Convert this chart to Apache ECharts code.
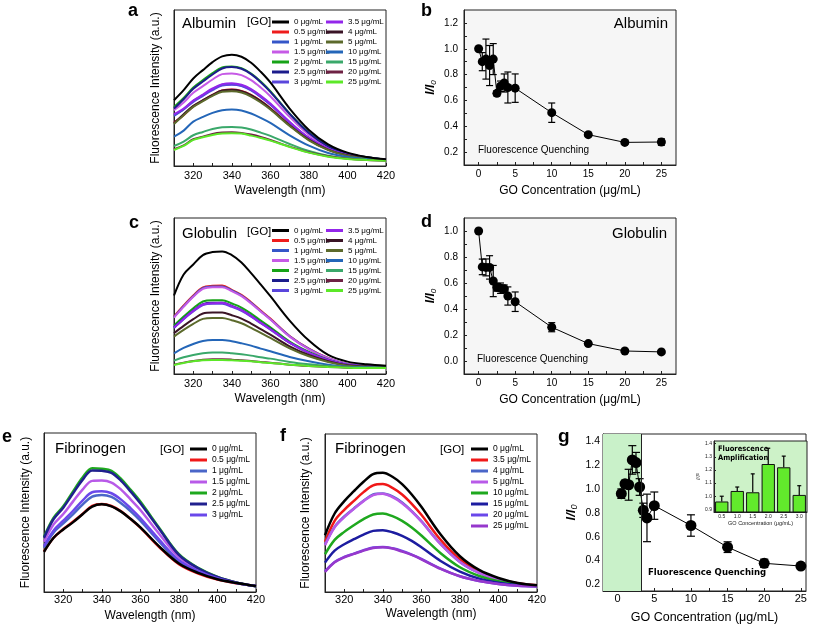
<!DOCTYPE html>
<html><head><meta charset="utf-8">
<script src="https://cdn.jsdelivr.net/npm/echarts@6/dist/echarts.min.js"></script>
<style>
html,body{margin:0;padding:0;background:#fff;width:817px;height:625px;overflow:hidden}
.c{position:absolute;left:0;top:0;width:817px;height:625px}
</style></head><body>
<div id="pa" class="c"></div><div id="pb" class="c"></div><div id="pc" class="c"></div>
<div id="pd" class="c"></div><div id="pe" class="c"></div><div id="pf" class="c"></div>
<div id="pg" class="c"></div>
<script>
// ---------- shared axes / tick labels ----------
const wavelengths = [310,315,320,325,330,335,340,345,350,355,360,370,380,390,400,410,420];
const wlLabelTicks = [320,340,360,380,400,420];
const wlTicks = [310,320,330,340,350,360,370,380,390,400,410,420];
const concLabelTicks = [0,5,10,15,20,25];
const concTicks = [0,2.5,5,7.5,10,12.5,15,17.5,20,22.5,25];
const ratioLabelsB = [0.2,0.4,0.6,0.8,1.0,1.2];
const ratioTicksB = [0.2,0.3,0.4,0.5,0.6,0.7,0.8,0.9,1.0,1.1,1.2];
const ratioLabelsD = [0,0.2,0.4,0.6,0.8,1.0];
const ratioTicksD = [0,0.1,0.2,0.3,0.4,0.5,0.6,0.7,0.8,0.9,1.0];
const ratioLabelsG = [0.2,0.4,0.6,0.8,1.0,1.2,1.4];
const ratioTicksG = [0.2,0.3,0.4,0.5,0.6,0.7,0.8,0.9,1.0,1.1,1.2,1.3,1.4];
const insetLabels = [0.9,1.0,1.1,1.2,1.3,1.4];

// ---------- legend names ----------
const goNames14 = ['0 μg/mL','0.5 μg/mL','1 μg/mL','1.5 μg/mL','2 μg/mL','2.5 μg/mL','3 μg/mL',
                   '3.5 μg/mL','4 μg/mL','5 μg/mL','10 μg/mL','15 μg/mL','20 μg/mL','25 μg/mL'];
const goNamesE = ['0 μg/mL','0.5 μg/mL','1 μg/mL','1.5 μg/mL','2 μg/mL','2.5 μg/mL','3 μg/mL'];
const goNamesF = ['0 μg/mL','3.5 μg/mL','4 μg/mL','5 μg/mL','10 μg/mL','15 μg/mL','20 μg/mL','25 μg/mL'];
const colors14 = ['#000000','#ee1c1c','#3556c8','#c65ae6','#17a317','#1c1c8c','#5a46dc',
                  '#9326ea','#3a1426','#5c6a2c','#2466b8','#3aa86a','#6e2244','#5ce828'];
const colorsE = ['#000000','#f01818','#4a66c8','#b85ae8','#1ea81e','#20208e','#6a48ea'];
const colorsF = ['#000000','#f01818','#4a66c8','#b85ae8','#1ea81e','#1c1ca0','#6a48ea','#9638cc'];

// ---------- panel a: Albumin spectra (a.u.) ----------
const alb_0   = [197,227,262,287,311,328,333,327,309,282,250,172,108,65,40,27,20];
const alb_0_5 = [130,152,178,196,213,226,229,225,213,195,173,123,79,49,32,23,18];
const alb_1   = [150,170,195,212,230,243,245,241,228,208,185,131,84,51,33,24,19];
const alb_1_5 = [167,190,219,239,259,275,277,272,257,235,209,147,93,56,36,26,19];
const alb_2   = [177,204,235,257,278,295,298,293,277,253,224,157,100,60,37,26,19];
const alb_2_5 = [172,200,231,253,274,292,296,291,275,251,222,156,99,59,37,26,19];
const alb_3   = [152,169,192,210,227,241,243,239,226,206,183,130,83,51,33,24,19];
const alb_3_5 = [155,172,196,214,232,245,248,243,230,210,187,132,84,52,33,24,19];
const alb_4   = [128,155,180,197,213,226,228,224,212,194,172,122,79,49,32,23,18];
const alb_5   = [126,152,177,194,210,222,224,220,208,190,169,120,77,48,31,23,18];
const alb_10  = [88,106,133,147,159,167,169,166,157,144,129,92,61,39,27,21,17];
const alb_15  = [60,73,92,102,111,116,117,115,109,100,90,66,45,31,23,19,17];
const alb_20  = [50,62,80,88,96,100,101,99,94,87,78,58,41,29,22,18,16];
const alb_25  = [48,60,78,86,93,97,98,97,91,84,76,57,40,28,21,18,16];

// ---------- panel c: Globulin spectra (a.u.) ----------
const glo_0   = [235,298,328,356,365,367,356,334,302,268,233,160,100,57,37,29,25];
const glo_0_5 = [172,205,235,259,264,265,252,237,215,190,166,114,76,48,30,25,22];
const glo_1   = [170,203,233,257,262,262,250,235,213,188,164,113,75,47,30,25,22];
const glo_1_5 = [169,201,231,255,260,260,248,233,211,187,163,112,74,47,30,25,22];
const glo_2   = [145,172,197,217,221,221,211,199,181,160,140,97,66,43,28,24,21];
const glo_2_5 = [140,166,190,209,213,213,204,192,174,154,135,94,64,42,28,24,21];
const glo_3   = [138,164,187,206,210,210,201,189,172,152,133,93,63,41,27,24,21];
const glo_3_5 = [139,165,189,208,212,213,203,191,173,153,134,94,63,42,28,24,21];
const glo_4   = [122,144,164,181,184,184,176,166,151,134,118,83,57,38,26,23,21];
const glo_5   = [112,132,150,165,168,168,161,152,138,123,108,77,53,36,25,22,20];
const glo_10  = [62,78,90,99,102,102,98,92,85,76,68,51,38,28,22,20,19];
const glo_15  = [40,50,57,62,64,64,62,59,55,50,46,36,29,24,20,19,18];
const glo_20  = [28,34,39,43,44,44,43,41,39,36,34,28,24,21,19,18,18];
const glo_25  = [27,33,38,41,42,42,41,40,38,35,33,28,24,21,19,18,18];

// ---------- panel e: Fibrinogen spectra, low [GO] ----------
const fibE_0   = [120,162,187,208,232,255,262,256,240,218,193,135,85,57,38,27,18];
const fibE_0_5 = [121,162,188,210,233,257,263,257,241,218,192,133,83,55,37,26,18];
const fibE_1   = [132,178,205,232,261,285,290,284,265,241,213,149,92,61,40,27,18];
const fibE_1_5 = [150,202,233,270,306,332,333,327,306,276,245,172,104,67,43,28,17];
const fibE_2   = [165,222,256,300,342,370,368,362,338,305,270,190,113,72,45,28,17];
const fibE_2_5 = [162,218,252,294,335,363,362,356,332,300,265,187,111,71,45,28,17];
const fibE_3   = [137,184,213,242,273,298,301,295,276,250,221,155,95,63,41,27,18];

// ---------- panel f: Fibrinogen spectra, high [GO] ----------
const fibF_0   = [170,235,272,302,330,353,357,345,323,292,255,172,107,66,42,27,20];
const fibF_3_5 = [150,213,246,273,299,319,323,312,292,264,231,156,98,61,39,26,20];
const fibF_4   = [142,195,226,250,273,292,295,286,268,242,212,144,90,57,37,25,19];
const fibF_5   = [140,194,224,249,272,290,294,284,266,241,211,143,90,57,37,25,19];
const fibF_10  = [113,156,180,200,218,232,235,227,213,193,169,116,74,48,32,23,18];
const fibF_15  = [88,124,143,158,172,183,185,179,168,153,134,93,61,40,28,21,17];
const fibF_20  = [62,90,105,115,125,133,135,131,123,112,99,70,47,33,24,19,17];
const fibF_25  = [60,89,104,114,124,132,134,130,121,111,98,69,47,33,24,19,17];

// ---------- I/I0 vs GO concentration ----------
const concAll = [0,0.5,1,1.5,2,2.5,3,3.5,4,5,10,15,20,25];
const albRatio = [1.0,0.90,0.92,0.87,0.92,0.655,0.71,0.735,0.70,0.695,0.505,0.335,0.275,0.278];
const albErr   = [0.01,0.07,0.155,0.155,0.12,0.02,0.04,0.07,0.12,0.11,0.075,0.012,0.01,0.025];
const gloRatio = [1.0,0.724,0.72,0.72,0.615,0.567,0.56,0.555,0.50,0.456,0.26,0.134,0.077,0.07];
const gloErr   = [0.005,0.06,0.065,0.09,0.12,0.03,0.04,0.03,0.07,0.075,0.035,0.012,0.01,0.01];
const concFib  = [0.5,1,1.5,2,2.5,3,3.5,4,5,10,15,20,25];
const fibRatio = [0.962,1.045,1.037,1.246,1.224,1.018,0.822,0.758,0.861,0.694,0.512,0.376,0.353];
const fibErr   = [0.04,0.03,0.13,0.12,0.085,0.07,0.06,0.2,0.115,0.09,0.045,0.035,0.012];
const ampCats  = ['0.5','1.0','1.5','2.0','2.5','3.0'];
const ampVals  = [0.96,1.04,1.03,1.245,1.22,1.01];
const ampErr   = [0.04,0.03,0.14,0.12,0.085,0.07];

// ---------- helpers ----------
const FONT = "'Liberation Sans', Arial, sans-serif";
const NARROW = "'Liberation Sans Narrow', 'DejaVu Sans Condensed', 'Liberation Sans', sans-serif";
const AX = '#222';
function txt(t, x, y, size, opt) {
  opt = opt || {};
  return {type:'text', x:x, y:y, silent:true, z:100, style:{text:t, fill:'#000',
    font:(opt.weight||'normal')+' '+size+'px '+(opt.family||FONT),
    align:opt.align||'left', verticalAlign:'middle'}};
}
function errRender(capW, upperOnly) {
  return function (params, api) {
    const x = api.value(0), lo = api.value(1), hi = api.value(2);
    const pHi = api.coord([x, hi]), pLo = api.coord([x, lo]);
    const st = {stroke:'#000', lineWidth:1.2};
    const ch = [
      {type:'line', shape:{x1:pHi[0], y1:pHi[1], x2:pLo[0], y2:pLo[1]}, style:st},
      {type:'line', shape:{x1:pHi[0]-capW/2, y1:pHi[1], x2:pHi[0]+capW/2, y2:pHi[1]}, style:st}
    ];
    if (!upperOnly) ch.push({type:'line', shape:{x1:pLo[0]-capW/2, y1:pLo[1], x2:pLo[0]+capW/2, y2:pLo[1]}, style:st});
    return {type:'group', children:ch};
  };
}
function legendCol(names, left, top, fs, lh) {
  return {data:names, orient:'vertical', left:left, top:top, icon:'rect', itemWidth:17, itemHeight:3,
    itemGap:1, padding:0, selectedMode:false, textStyle:{fontSize:fs, lineHeight:lh, color:'#000', fontFamily:FONT}};
}

function spectrum(id, cfg) {
  const chart = echarts.init(document.getElementById(id));
  const series = cfg.curves.map((arr, i) => ({
    name: cfg.names[i], type:'line', data: wavelengths.map((w, j) => [w, arr[j]]),
    smooth:0.35, showSymbol:false, symbol:'none', color: cfg.colors[i], silent:true,
    lineStyle:{width:cfg.lw, color:cfg.colors[i]}, z: i === 0 ? 5 : 2
  }));
  chart.setOption({
    animation:false, textStyle:{fontFamily:FONT},
    grid:{left:cfg.grid[0], top:cfg.grid[1], width:cfg.grid[2], height:cfg.grid[3], show:true,
          borderColor:AX, borderWidth:1, backgroundColor:'transparent'},
    xAxis:{type:'value', min:310, max:420, name:'Wavelength (nm)', nameLocation:'middle', nameGap:cfg.xGap,
      nameTextStyle:{fontSize:12, color:'#000'}, axisLine:{show:true, onZero:false, lineStyle:{color:AX}},
      axisTick:{show:true, inside:true, length:3, customValues:wlTicks, lineStyle:{color:AX}},
      axisLabel:{customValues:wlLabelTicks, fontSize:11, color:'#000', margin:cfg.lblMargin}, splitLine:{show:false}},
    yAxis:{type:'value', min:0, max:cfg.ymax, name:'Fluorescence Intensity (a.u.)', nameLocation:'middle',
      nameGap:cfg.yGap, nameTextStyle:{fontSize:12, color:'#000'}, axisLine:{show:true, onZero:false, lineStyle:{color:AX}},
      axisTick:{show:false}, axisLabel:{show:false}, splitLine:{show:false}},
    legend: cfg.legends,
    graphic: cfg.graphic,
    series: series
  });
}

function ratioChart(id, cfg) {
  const chart = echarts.init(document.getElementById(id));
  const errData = cfg.x.map((x, i) => [x, cfg.y[i]-cfg.err[i], cfg.y[i]+cfg.err[i]]);
  chart.setOption({
    animation:false, textStyle:{fontFamily:FONT},
    grid:{left:cfg.grid[0], top:cfg.grid[1], width:cfg.grid[2], height:cfg.grid[3], show:true,
          borderColor:AX, borderWidth:1, backgroundColor:'#f6f6f6'},
    xAxis:{type:'value', min:-2, max:27, name:'GO Concentration (μg/mL)', nameLocation:'middle', nameGap:cfg.xGap,
      nameTextStyle:{fontSize:12, color:'#000'}, axisLine:{show:true, onZero:false, lineStyle:{color:AX}},
      axisTick:{show:true, inside:true, length:3, customValues:concTicks, lineStyle:{color:AX}},
      axisLabel:{customValues:concLabelTicks, fontSize:10, color:'#000', margin:4}, splitLine:{show:false}},
    yAxis:{type:'value', min:cfg.ymin, max:cfg.ymax, name:'{i|I/I}{s|0}', nameLocation:'middle', nameGap:26,
      nameTextStyle:{color:'#000', rich:{i:{fontSize:12, fontStyle:'italic', fontWeight:'bold'}, s:{fontSize:8, fontStyle:'italic', padding:[6,0,0,0]}}},
      axisLine:{show:true, onZero:false, lineStyle:{color:AX}},
      axisTick:{show:true, inside:true, length:3, customValues:cfg.yTicks, lineStyle:{color:AX}},
      axisLabel:{customValues:cfg.yLabels, fontSize:10, color:'#000', margin:6, formatter:v => v.toFixed(1)},
      splitLine:{show:false}},
    graphic: cfg.graphic,
    series:[
      {type:'custom', renderItem:errRender(7, false), data:errData, encode:{x:0, y:[1,2]}, silent:true, z:2},
      {type:'line', data:cfg.x.map((x, i) => [x, cfg.y[i]]), symbol:'circle', symbolSize:9, showSymbol:true,
       color:'#000', lineStyle:{color:'#000', width:1}, itemStyle:{color:'#000'}, silent:true, z:3}
    ]
  });
}

// ---------- panel a ----------
spectrum('pa', {
  grid:[174,10,212,156], ymax:467, lw:2, xGap:19, yGap:12, lblMargin:4,
  curves:[alb_0,alb_0_5,alb_1,alb_1_5,alb_2,alb_2_5,alb_3,alb_3_5,alb_4,alb_5,alb_10,alb_15,alb_20,alb_25],
  names:goNames14, colors:colors14,
  legends:[legendCol(goNames14.slice(0,7), 272, 17.5, 8, 9), legendCol(goNames14.slice(7), 326, 17.5, 8, 9)],
  graphic:[txt('a', 128, 11, 18, {weight:'bold'}), txt('Albumin', 182, 23.5, 15), txt('[GO]', 247, 22, 11.5)]
});
// ---------- panel b ----------
ratioChart('pb', {
  grid:[464,10,212,155], ymin:0.1, ymax:1.3, yLabels:ratioLabelsB, yTicks:ratioTicksB, xGap:20,
  x:concAll, y:albRatio, err:albErr,
  graphic:[txt('b', 421, 11, 18, {weight:'bold'}), txt('Albumin', 668, 24, 15, {align:'right'}),
           txt('Fluorescence Quenching', 478, 150.5, 10)]
});
// ---------- panel c ----------
spectrum('pc', {
  grid:[174,218,212,156], ymax:467, lw:2, xGap:19, yGap:12, lblMargin:4,
  curves:[glo_0,glo_0_5,glo_1,glo_1_5,glo_2,glo_2_5,glo_3,glo_3_5,glo_4,glo_5,glo_10,glo_15,glo_20,glo_25],
  names:goNames14, colors:colors14,
  legends:[legendCol(goNames14.slice(0,7), 272, 226, 8, 9), legendCol(goNames14.slice(7), 326, 226, 8, 9)],
  graphic:[txt('c', 129, 223, 18, {weight:'bold'}), txt('Globulin', 182, 233.5, 15), txt('[GO]', 247, 231.5, 11.5)]
});
// ---------- panel d ----------
ratioChart('pd', {
  grid:[464,218,212,156], ymin:-0.1, ymax:1.1, yLabels:ratioLabelsD, yTicks:ratioTicksD, xGap:20,
  x:concAll, y:gloRatio, err:gloErr,
  graphic:[txt('d', 421, 222, 18, {weight:'bold'}), txt('Globulin', 667, 233.5, 15, {align:'right'}),
           txt('Fluorescence Quenching', 477, 359, 10)]
});
// ---------- panel e ----------
spectrum('pe', {
  grid:[44,433,212,159], ymax:475, lw:2.5, xGap:18, yGap:12, lblMargin:2,
  curves:[fibE_0,fibE_0_5,fibE_1,fibE_1_5,fibE_2,fibE_2_5,fibE_3],
  names:goNamesE, colors:colorsE,
  legends:[legendCol(goNamesE, 190, 444, 8.5, 10)],
  graphic:[txt('e', 2, 437, 18, {weight:'bold'}), txt('Fibrinogen', 55, 449, 15), txt('[GO]', 160, 449.5, 11.5)]
});
// ---------- panel f ----------
spectrum('pf', {
  grid:[325,434,212,158], ymax:473, lw:2.5, xGap:16, yGap:13, lblMargin:2,
  curves:[fibF_0,fibF_3_5,fibF_4,fibF_5,fibF_10,fibF_15,fibF_20,fibF_25],
  names:goNamesF, colors:colorsF,
  legends:[legendCol(goNamesF, 471, 444, 8.5, 10)],
  graphic:[txt('f', 280, 436, 18, {weight:'bold'}), txt('Fibrinogen', 335, 449, 15), txt('[GO]', 440, 449.5, 11.5)]
});
// ---------- panel g (with inset) ----------
(function () {
  const chart = echarts.init(document.getElementById('pg'));
  const errMain = concFib.map((x, i) => [x, fibRatio[i]-fibErr[i], fibRatio[i]+fibErr[i]]);
  const errInset = ampCats.map((c, i) => [i, ampVals[i], ampVals[i]+ampErr[i]]);
  chart.setOption({
    animation:false, textStyle:{fontFamily:FONT},
    grid:[
      {left:603, top:434, width:203, height:158, show:true, borderColor:AX, borderWidth:1, backgroundColor:'#fff'},
      {left:714, top:441, width:93, height:71, show:true, borderColor:AX, borderWidth:1, backgroundColor:'#cdf2c8', z:10}
    ],
    xAxis:[
      {gridIndex:0, type:'value', min:-2, max:25.7, name:'GO Concentration (μg/mL)', nameLocation:'middle', nameGap:20,
       nameTextStyle:{fontSize:12.5, color:'#000'}, axisLine:{show:true, onZero:false, lineStyle:{color:AX}},
       axisTick:{show:true, inside:true, length:3, customValues:concTicks, lineStyle:{color:AX}},
       axisLabel:{customValues:concLabelTicks, fontSize:11, color:'#000', margin:2}, splitLine:{show:false}},
      {gridIndex:1, type:'category', data:ampCats, name:'GO Concentration (μg/mL)', nameLocation:'middle', nameGap:8,
       nameTextStyle:{fontSize:5.5, color:'#222'}, axisLine:{show:true, onZero:false, lineStyle:{color:AX}},
       axisTick:{show:false}, axisLabel:{fontSize:5, color:'#222', margin:2}, z:10}
    ],
    yAxis:[
      {gridIndex:0, type:'value', min:0.143, max:1.464, name:'{i|I/I}{s|0}', nameLocation:'middle', nameGap:24,
       nameTextStyle:{color:'#000', rich:{i:{fontSize:13, fontStyle:'italic', fontWeight:'bold'}, s:{fontSize:9, fontStyle:'italic', padding:[6,0,0,0]}}},
       axisLine:{show:true, onZero:false, lineStyle:{color:AX}},
       axisTick:{show:true, inside:true, length:3, customValues:ratioTicksG, lineStyle:{color:AX}},
       axisLabel:{customValues:ratioLabelsG, fontSize:10.5, color:'#000', margin:3, formatter:v => v.toFixed(1)},
       splitLine:{show:false}},
      {gridIndex:1, type:'value', min:0.88, max:1.42, name:'{i|I/I}{s|0}', nameLocation:'middle', nameGap:11,
       nameTextStyle:{color:'#222', rich:{i:{fontSize:5.5, fontStyle:'italic'}, s:{fontSize:4}}},
       axisLine:{show:true, onZero:false, lineStyle:{color:AX}}, axisTick:{show:true, inside:true, length:2, customValues:insetLabels, lineStyle:{color:AX}},
       axisLabel:{customValues:insetLabels, fontSize:5, color:'#222', margin:2, formatter:v => v.toFixed(1)},
       splitLine:{show:false}, z:10}
    ],
    graphic:[
      txt('g', 558, 437, 19, {weight:'bold'}),
      txt('Fluorescence Quenching', 648, 573, 9.5, {weight:'bold', family:NARROW}),
      Object.assign(txt('Fluorescence', 718, 449, 7.5, {weight:'bold', family:NARROW}), {z:200}),
      Object.assign(txt('Amplification', 718, 458.5, 7.5, {weight:'bold', family:NARROW}), {z:200})
    ],
    series:[
      {type:'line', xAxisIndex:0, yAxisIndex:0, data:concFib.map((x, i) => [x, fibRatio[i]]), symbol:'circle',
       symbolSize:11, color:'#000', lineStyle:{color:'#000', width:1}, itemStyle:{color:'#000'}, silent:true, z:3,
       markArea:{silent:true, itemStyle:{color:'#c9f1c9'}, data:[[{xAxis:-2}, {xAxis:3.25}]]},
       markLine:{silent:true, symbol:['none','none'], label:{show:false}, lineStyle:{color:'#222', width:1, type:'solid'},
                 data:[{xAxis:3.25}]}},
      {type:'custom', xAxisIndex:0, yAxisIndex:0, renderItem:errRender(8, false), data:errMain, encode:{x:0, y:[1,2]}, silent:true, z:4},
      {type:'bar', xAxisIndex:1, yAxisIndex:1, data:ampVals, barCategoryGap:'14%', silent:true, z:11,
       itemStyle:{color:'#62ea2c', borderColor:'#111', borderWidth:1},
       markLine:{silent:true, symbol:['none','none'], label:{show:false}, lineStyle:{color:'#1d4a1d', width:1, type:[3,2]},
                 data:[{yAxis:1.0}]}},
      {type:'custom', xAxisIndex:1, yAxisIndex:1, renderItem:errRender(4, true), data:errInset, encode:{x:0, y:[1,2]}, silent:true, z:12}
    ]
  });
})();
</script>
</body></html>
